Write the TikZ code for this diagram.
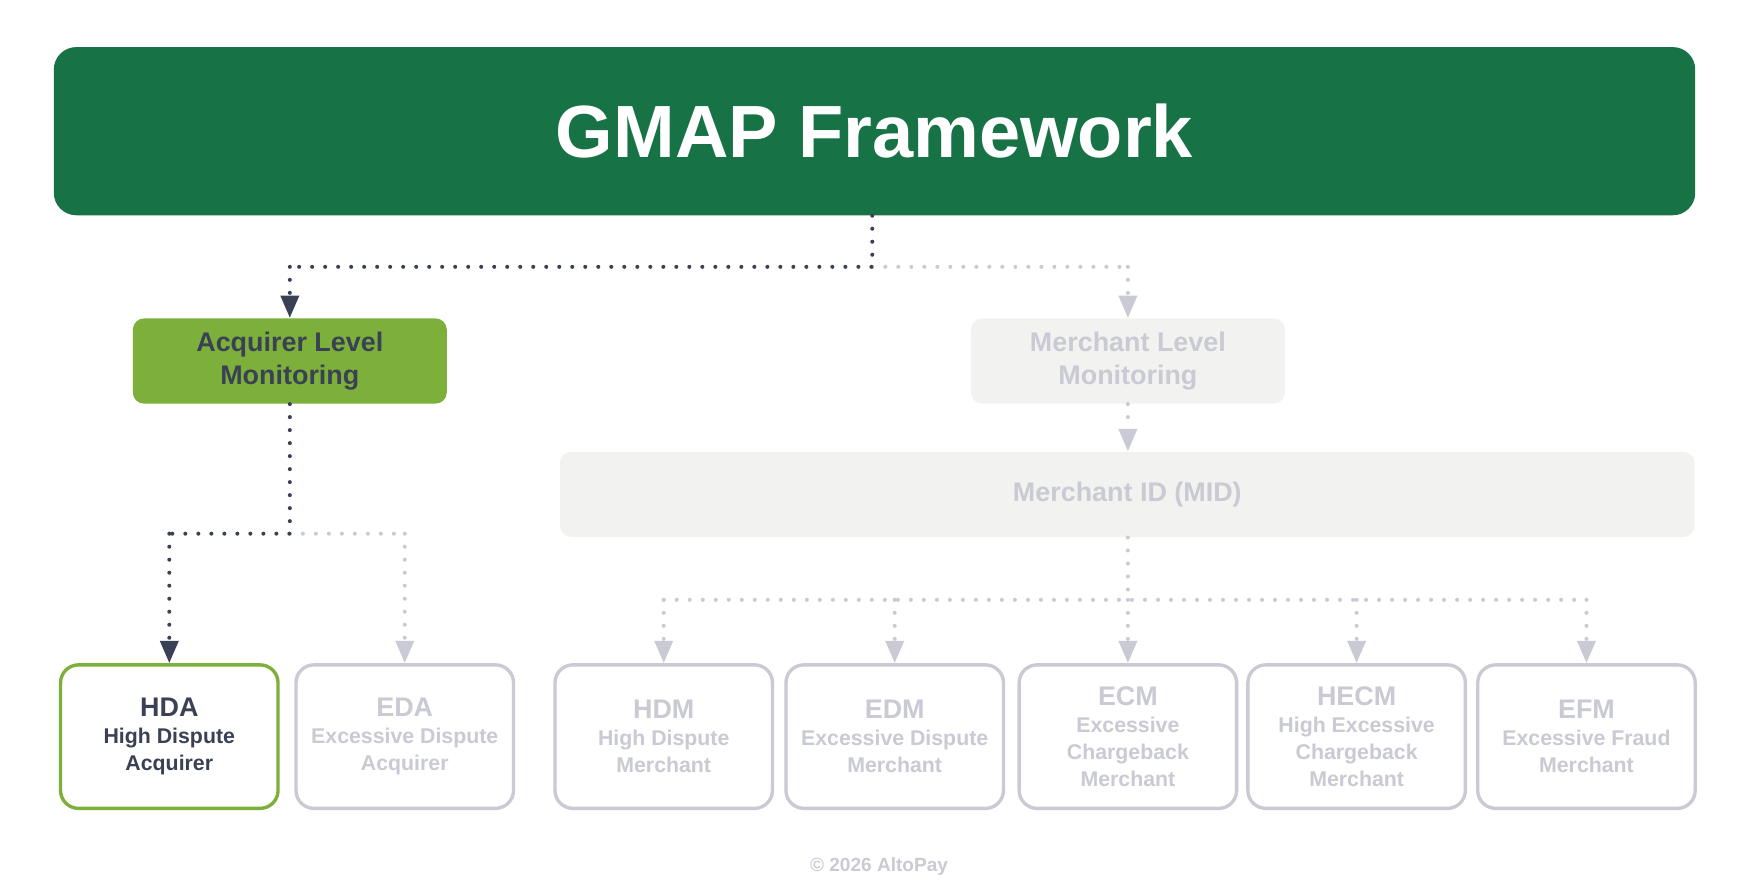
\documentclass[tikz,border=0pt]{standalone}
\usepackage{fontspec}
\setmainfont{Liberation Sans}
\usetikzlibrary{arrows.meta}
\definecolor{gmapgreen}{HTML}{177245}
\definecolor{leaf}{HTML}{7CB03A}
\definecolor{ink}{HTML}{3A4154}
\definecolor{mute}{HTML}{C9CAD3}
\definecolor{pale}{HTML}{F2F3F0}
\tikzset{
  dots/.style={line width=1.8pt,line cap=round,dash pattern=on 0pt off 5.8pt},
  live/.style={dots,ink},
  dead/.style={dots,mute},
  tip/.style={-{Triangle[width=8pt,length=10pt]}},
  level/.style={rounded corners=5pt,minimum width=140pt,minimum height=38pt,align=center,font=\bfseries\fontsize{12}{15}\selectfont},
  leafbox/.style={draw=#1,line width=1.5pt,rounded corners=8pt,minimum width=97pt,minimum height=64pt,align=center,fill=white,font=\bfseries\fontsize{9.5}{12}\selectfont},
}
\begin{document}
\begin{tikzpicture}[x=0.5pt,y=-0.5pt]
\useasboundingbox (0,0) rectangle (1568,792);
\node[fill=gmapgreen,rounded corners=10pt,minimum width=732pt,minimum height=75pt,text=white,font=\bfseries\fontsize{33}{36}\selectfont] (top) at (780,117) {GMAP Framework};
\node[level,fill=leaf,text=ink] (acq) at (258.5,322) {Acquirer Level\\Monitoring};
\node[level,fill=pale,text=mute] (mer) at (1006,322) {Merchant Level\\Monitoring};
\node[level,fill=pale,text=mute,minimum width=506pt] (mid) at (1005.5,441) {Merchant ID (MID)};
% bottom row
\node[leafbox=leaf,text=ink] (hda) at (151,657) {{\fontsize{12}{14}\selectfont HDA}\\High Dispute\\Acquirer};
\node[leafbox=mute,text=mute] (eda) at (361,657) {{\fontsize{12}{14}\selectfont EDA}\\Excessive Dispute\\Acquirer};
\node[leafbox=mute,text=mute] (hdm) at (592,657) {{\fontsize{12}{14}\selectfont HDM}\\High Dispute\\Merchant};
\node[leafbox=mute,text=mute] (edm) at (798,657) {{\fontsize{12}{14}\selectfont EDM}\\Excessive Dispute\\Merchant};
\node[leafbox=mute,text=mute] (ecm) at (1006,657) {{\fontsize{12}{14}\selectfont ECM}\\Excessive\\Chargeback\\Merchant};
\node[leafbox=mute,text=mute] (hecm) at (1210,657) {{\fontsize{12}{14}\selectfont HECM}\\High Excessive\\Chargeback\\Merchant};
\node[leafbox=mute,text=mute] (efm) at (1415,657) {{\fontsize{12}{14}\selectfont EFM}\\Excessive Fraud\\Merchant};
\node[text=mute,font=\bfseries\fontsize{8.5}{10}\selectfont] (copy) at (784,773) {© 2026 AltoPay};
% connectors
\coordinate (j1) at (778,238);
\coordinate (j2) at (258.5,476);
\coordinate (j3) at (1006,535);
\draw[dead] (j1) -- (1006,238);
\draw[dead,tip] (1006,238) -- (mer.north);
\draw[live] (top.south -| j1) -- (j1) -- (258.5,238);
\draw[live,tip] (258.5,238) -- (acq.north);
\draw[dead,tip] (mer.south) -- (mid.north -| mer);
\draw[dead] (j2) -- (361,476);
\draw[dead,tip] (361,476) -- (eda.north);
\draw[live] (acq.south) -- (j2) -- (151,476);
\draw[live,tip] (151,476) -- (hda.north);
\draw[dead] (mid.south -| j3) -- (j3);
\draw[dead] (592,535) -- (1415,535);
\foreach \n in {hdm,edm,ecm,hecm,efm}
  \draw[dead,tip] (\n.north |- j3) -- (\n.north);
\end{tikzpicture}
\end{document}
